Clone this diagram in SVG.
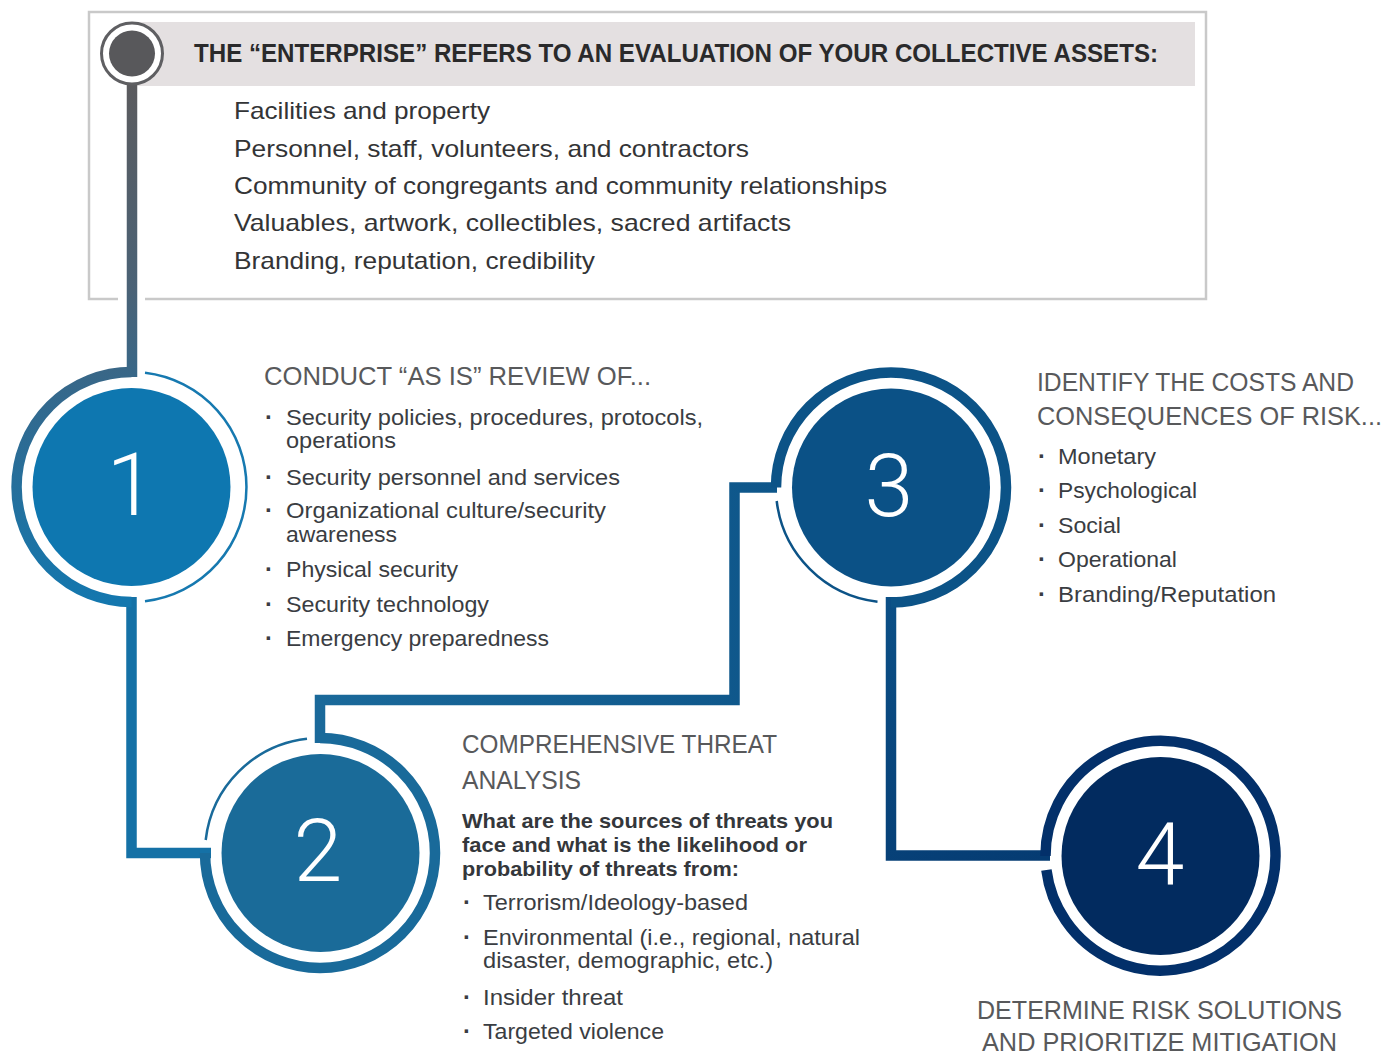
<svg xmlns="http://www.w3.org/2000/svg" width="1397" height="1057" viewBox="0 0 1397 1057">
<defs>
<style>
.hdr{font-family:"Liberation Sans",Arial,sans-serif;font-weight:bold;font-size:26px;fill:#2a2a2b}
.top{font-family:"Liberation Sans",Arial,sans-serif;font-size:24px;fill:#333436}
.body{font-family:"Liberation Sans",Arial,sans-serif;font-size:22px;fill:#3a3d42}
.bold{font-family:"Liberation Sans",Arial,sans-serif;font-size:21px;font-weight:bold;fill:#34373b}
.title{font-family:"Liberation Sans",Arial,sans-serif;font-size:26px;fill:#58595b}
.dot{font-family:"Liberation Sans",Arial,sans-serif;font-size:24px;font-weight:bold;fill:#3a3d42}
.num{font-family:Roboto,"Liberation Sans",sans-serif;font-weight:300;font-size:88px;fill:#ffffff;text-anchor:middle}
.thick{fill:none;stroke-width:10.5}
.thin{fill:none;stroke-width:2.5}
</style>
<linearGradient id="g1" gradientUnits="userSpaceOnUse" x1="0" y1="85" x2="0" y2="600">
<stop offset="0" stop-color="#5b5b5e"/>
<stop offset="0.4" stop-color="#4a6276"/>
<stop offset="0.62" stop-color="#32698e"/>
<stop offset="1" stop-color="#1477ae"/>
</linearGradient>
<linearGradient id="g2" gradientUnits="userSpaceOnUse" x1="320" y1="0" x2="776" y2="0">
<stop offset="0" stop-color="#1a699a"/>
<stop offset="1" stop-color="#0e568a"/>
</linearGradient>
<linearGradient id="g3" gradientUnits="userSpaceOnUse" x1="891" y1="602" x2="1050" y2="855">
<stop offset="0" stop-color="#0b4f86"/>
<stop offset="1" stop-color="#053b72"/>
</linearGradient>
</defs>

<rect x="0" y="0" width="1397" height="1057" fill="#ffffff"/>

<g id="enterprise-box">
<path d="M118,299 H89 V12 H1206 V299 H145" fill="none" stroke="#c9c9c9" stroke-width="2.5"/>
<rect x="132" y="22" width="1063" height="64" fill="#e4e0e1"/>
<text class="hdr" x="194" y="62" textLength="964" lengthAdjust="spacingAndGlyphs">THE “ENTERPRISE” REFERS TO AN EVALUATION OF YOUR COLLECTIVE ASSETS:</text>
<text class="top" x="234" y="119" textLength="256" lengthAdjust="spacingAndGlyphs">Facilities and property</text>
<text class="top" x="234" y="157" textLength="515" lengthAdjust="spacingAndGlyphs">Personnel, staff, volunteers, and contractors</text>
<text class="top" x="234" y="194" textLength="653" lengthAdjust="spacingAndGlyphs">Community of congregants and community relationships</text>
<text class="top" x="234" y="231" textLength="557" lengthAdjust="spacingAndGlyphs">Valuables, artwork, collectibles, sacred artifacts</text>
<text class="top" x="234" y="269" textLength="361" lengthAdjust="spacingAndGlyphs">Branding, reputation, credibility</text>
</g>

<g id="connectors">
<path d="M132,84 V377" class="thick" stroke="url(#g1)"/>
<path d="M131.5,597 V853 H211" class="thick" stroke="#1571a6"/>
<path d="M320,743 V700 H734.5 V487.5 H777" class="thick" stroke="url(#g2)"/>
<path d="M891,597 V855.5 H1050" class="thick" stroke="url(#g3)"/>
</g>

<g id="start-node">
<circle cx="132" cy="53.5" r="30.5" fill="#ffffff" stroke="#5f5f62" stroke-width="3"/>
<circle cx="132" cy="53.5" r="23" fill="#58585b"/>
</g>

<g id="step1">
<path d="M131.5,372 A115,115 0 0 0 131.5,602" class="thick" stroke="url(#g1)"/>
<path d="M145,372.8 A115,115 0 0 1 145,601.2" class="thin" stroke="#1679b0"/>
<circle cx="131.5" cy="487" r="99" fill="#0e77b0"/>
<text class="num" x="131" y="515">1</text>
<text class="title" x="264" y="385" textLength="387" lengthAdjust="spacingAndGlyphs">CONDUCT “AS IS” REVIEW OF...</text>
<text class="dot" x="265" y="425">·</text>
<text class="body" x="286" y="425" textLength="417" lengthAdjust="spacingAndGlyphs">Security policies, procedures, protocols,</text>
<text class="body" x="286" y="448" textLength="110" lengthAdjust="spacingAndGlyphs">operations</text>
<text class="dot" x="265" y="485">·</text>
<text class="body" x="286" y="485" textLength="334" lengthAdjust="spacingAndGlyphs">Security personnel and services</text>
<text class="dot" x="265" y="518">·</text>
<text class="body" x="286" y="518" textLength="320" lengthAdjust="spacingAndGlyphs">Organizational culture/security</text>
<text class="body" x="286" y="542" textLength="111" lengthAdjust="spacingAndGlyphs">awareness</text>
<text class="dot" x="265" y="577">·</text>
<text class="body" x="286" y="577" textLength="172" lengthAdjust="spacingAndGlyphs">Physical security</text>
<text class="dot" x="265" y="612">·</text>
<text class="body" x="286" y="612" textLength="203" lengthAdjust="spacingAndGlyphs">Security technology</text>
<text class="dot" x="265" y="646">·</text>
<text class="body" x="286" y="646" textLength="263" lengthAdjust="spacingAndGlyphs">Emergency preparedness</text>
</g>

<g id="step2">
<path d="M205,853 A115,115 0 1 0 320,738" class="thick" stroke="#196a9a"/>
<path d="M205.7,840 A115,115 0 0 1 307,738.7" class="thin" stroke="#196a9a"/>
<circle cx="320.5" cy="853" r="99" fill="#1a6b99"/>
<text class="num" x="318" y="881">2</text>
<text class="title" x="462" y="753" textLength="315" lengthAdjust="spacingAndGlyphs">COMPREHENSIVE THREAT</text>
<text class="title" x="462" y="789" textLength="119" lengthAdjust="spacingAndGlyphs">ANALYSIS</text>
<text class="bold" x="462" y="828" textLength="371" lengthAdjust="spacingAndGlyphs">What are the sources of threats you</text>
<text class="bold" x="462" y="852" textLength="345" lengthAdjust="spacingAndGlyphs">face and what is the likelihood or</text>
<text class="bold" x="462" y="876" textLength="277" lengthAdjust="spacingAndGlyphs">probability of threats from:</text>
<text class="dot" x="463" y="910">·</text>
<text class="body" x="483" y="910" textLength="265" lengthAdjust="spacingAndGlyphs">Terrorism/Ideology-based</text>
<text class="dot" x="463" y="945">·</text>
<text class="body" x="483" y="945" textLength="377" lengthAdjust="spacingAndGlyphs">Environmental (i.e., regional, natural</text>
<text class="body" x="483" y="968" textLength="290" lengthAdjust="spacingAndGlyphs">disaster, demographic, etc.)</text>
<text class="dot" x="463" y="1005">·</text>
<text class="body" x="483" y="1005" textLength="140" lengthAdjust="spacingAndGlyphs">Insider threat</text>
<text class="dot" x="463" y="1039">·</text>
<text class="body" x="483" y="1039" textLength="181" lengthAdjust="spacingAndGlyphs">Targeted violence</text>
</g>

<g id="step3">
<path d="M776,487.5 A115,115 0 1 1 891,602.5" class="thick" stroke="#0c5387"/>
<path d="M776.7,501 A115,115 0 0 0 877.5,601.7" class="thin" stroke="#0c5387"/>
<circle cx="891" cy="487.5" r="99" fill="#0b5186"/>
<text class="num" x="889" y="516">3</text>
<text class="title" x="1037" y="391" textLength="317" lengthAdjust="spacingAndGlyphs">IDENTIFY THE COSTS AND</text>
<text class="title" x="1037" y="425" textLength="345" lengthAdjust="spacingAndGlyphs">CONSEQUENCES OF RISK...</text>
<text class="dot" x="1038" y="464">·</text>
<text class="body" x="1058" y="464" textLength="98" lengthAdjust="spacingAndGlyphs">Monetary</text>
<text class="dot" x="1038" y="498">·</text>
<text class="body" x="1058" y="498" textLength="139" lengthAdjust="spacingAndGlyphs">Psychological</text>
<text class="dot" x="1038" y="533">·</text>
<text class="body" x="1058" y="533" textLength="63" lengthAdjust="spacingAndGlyphs">Social</text>
<text class="dot" x="1038" y="567">·</text>
<text class="body" x="1058" y="567" textLength="119" lengthAdjust="spacingAndGlyphs">Operational</text>
<text class="dot" x="1038" y="602">·</text>
<text class="body" x="1058" y="602" textLength="218" lengthAdjust="spacingAndGlyphs">Branding/Reputation</text>
</g>

<g id="step4">
<path d="M1046.4,870 A115,115 0 1 0 1045.5,856" class="thick" stroke="#03306a"/>
<circle cx="1160.5" cy="856" r="99" fill="#022b5f"/>
<text class="num" x="1160" y="885">4</text>
<text class="title" x="977" y="1019" textLength="365" lengthAdjust="spacingAndGlyphs">DETERMINE RISK SOLUTIONS</text>
<text class="title" x="982" y="1051" textLength="355" lengthAdjust="spacingAndGlyphs">AND PRIORITIZE MITIGATION</text>
</g>
</svg>
